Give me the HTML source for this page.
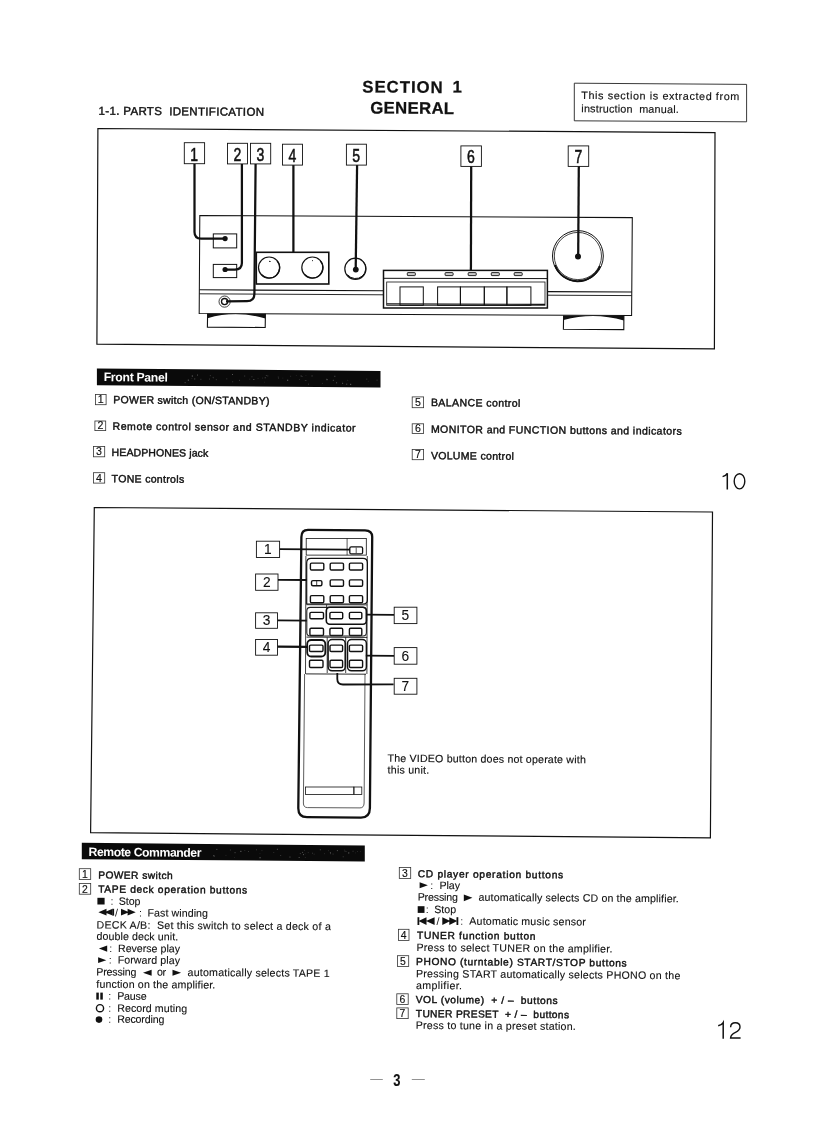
<!DOCTYPE html>
<html><head><meta charset="utf-8"><style>
html,body{margin:0;padding:0;background:#fff;}
body{width:814px;height:1122px;overflow:hidden;}
svg{display:block;will-change:transform;font-family:"Liberation Sans",sans-serif;}
</style></head><body>
<svg width="814" height="1122" viewBox="0 0 814 1122">
<text x="98.6" y="114.7" font-size="11.5" font-weight="400" fill="#111" textLength="165.4" lengthAdjust="spacing" stroke="#111" stroke-width="0.42" transform="rotate(0.43 98.6 114.7)" style="white-space:pre">1-1. PARTS  IDENTIFICATION</text>
<text x="362.3" y="92.4" font-size="16.8" font-weight="700" fill="#111" textLength="80.4" lengthAdjust="spacing" stroke="#111" stroke-width="0.25" transform="rotate(0.43 362.3 92.4)" style="white-space:pre">SECTION</text>
<text x="452.6" y="92.5" font-size="16.8" font-weight="700" fill="#111" stroke="#111" stroke-width="0.25" transform="rotate(0.43 452.6 92.5)" style="white-space:pre">1</text>
<text x="370.2" y="113.4" font-size="16.8" font-weight="700" fill="#111" textLength="83.9" lengthAdjust="spacing" stroke="#111" stroke-width="0.25" transform="rotate(0.43 370.2 113.4)" style="white-space:pre">GENERAL</text>
<polygon points="574.3,83.2 746.6,84.4 746.6,121.8 574.3,120.8" fill="none" stroke="#222" stroke-width="0.9"/>
<text x="581.3" y="99.0" font-size="10.8" font-weight="400" fill="#111" textLength="158.0" lengthAdjust="spacing" stroke="#111" stroke-width="0.15" transform="rotate(0.43 581.3 99.0)" style="white-space:pre">This section is extracted from</text>
<text x="581.3" y="112.3" font-size="10.8" font-weight="400" fill="#111" textLength="97.5" lengthAdjust="spacing" stroke="#111" stroke-width="0.15" transform="rotate(0.43 581.3 112.3)" style="white-space:pre">instruction  manual.</text>
<polygon points="97.9,128.5 715.0,132.6 714.4,348.9 96.9,344.2" fill="none" stroke="#111" stroke-width="1.2"/>
<path d="M194.5,164 L194.5,232 Q194.5,238.6 201,238.6 L225,238.6" fill="none" stroke="#111" stroke-width="2.25" />
<path d="M241.9,164 L241.9,263 Q241.9,269.5 235,269.5 L225,269.5" fill="none" stroke="#111" stroke-width="2.25" />
<path d="M255.6,164 L254.4,294 Q254.2,301.0 247,301.2 L226,301.4" fill="none" stroke="#111" stroke-width="2.25" />
<line x1="293.4" y1="165.0" x2="293.4" y2="252.5" stroke="#111" stroke-width="2.25"/>
<path d="M357.1,165 L355.7,268.8" fill="none" stroke="#111" stroke-width="2.25" />
<line x1="471.2" y1="166.0" x2="470.9" y2="270.5" stroke="#111" stroke-width="2.25"/>
<line x1="578.8" y1="166.0" x2="578.2" y2="256.0" stroke="#111" stroke-width="2.25"/>
<rect x="184.3" y="142.7" width="20.3" height="21.0" rx="0" fill="#fff" stroke="#111" stroke-width="0.9"/>
<text x="190.3" y="160.7" font-size="19" font-weight="400" fill="#111" stroke="#111" stroke-width="0.55" transform="translate(190.3 160.7) scale(0.74 1) translate(-190.3 -160.7)" style="white-space:pre">1</text>
<rect x="227.5" y="143.3" width="20.0" height="20.6" rx="0" fill="#fff" stroke="#111" stroke-width="0.9"/>
<text x="233.4" y="160.9" font-size="19" font-weight="400" fill="#111" stroke="#111" stroke-width="0.55" transform="translate(233.4 160.9) scale(0.74 1) translate(-233.4 -160.9)" style="white-space:pre">2</text>
<rect x="250.5" y="143.3" width="20.2" height="20.6" rx="0" fill="#fff" stroke="#111" stroke-width="0.9"/>
<text x="256.5" y="160.9" font-size="19" font-weight="400" fill="#111" stroke="#111" stroke-width="0.55" transform="translate(256.5 160.9) scale(0.74 1) translate(-256.5 -160.9)" style="white-space:pre">3</text>
<rect x="282.5" y="144.2" width="20.0" height="20.9" rx="0" fill="#fff" stroke="#111" stroke-width="0.9"/>
<text x="288.4" y="162.1" font-size="19" font-weight="400" fill="#111" stroke="#111" stroke-width="0.55" transform="translate(288.4 162.1) scale(0.74 1) translate(-288.4 -162.1)" style="white-space:pre">4</text>
<rect x="346.4" y="144.2" width="20.0" height="20.9" rx="0" fill="#fff" stroke="#111" stroke-width="0.9"/>
<text x="352.3" y="162.1" font-size="19" font-weight="400" fill="#111" stroke="#111" stroke-width="0.55" transform="translate(352.3 162.1) scale(0.74 1) translate(-352.3 -162.1)" style="white-space:pre">5</text>
<rect x="460.9" y="145.9" width="20.5" height="20.5" rx="0" fill="#fff" stroke="#111" stroke-width="0.9"/>
<text x="467.0" y="163.4" font-size="19" font-weight="400" fill="#111" stroke="#111" stroke-width="0.55" transform="translate(467.0 163.4) scale(0.74 1) translate(-467.0 -163.4)" style="white-space:pre">6</text>
<rect x="568.2" y="145.9" width="20.5" height="20.5" rx="0" fill="#fff" stroke="#111" stroke-width="0.9"/>
<text x="574.4" y="163.4" font-size="19" font-weight="400" fill="#111" stroke="#111" stroke-width="0.55" transform="translate(574.4 163.4) scale(0.74 1) translate(-574.4 -163.4)" style="white-space:pre">7</text>
<polygon points="199.8,215.5 632.3,217.6 631.6,315.5 199.2,313.5" fill="none" stroke="#111" stroke-width="1.05"/>
<line x1="199.5" y1="289.8" x2="383.5" y2="290.8" stroke="#111" stroke-width="1.1"/>
<line x1="199.5" y1="293.8" x2="383.5" y2="294.8" stroke="#111" stroke-width="0.9"/>
<line x1="547.4" y1="291.6" x2="631.8" y2="292.0" stroke="#111" stroke-width="1.1"/>
<line x1="547.4" y1="295.2" x2="631.8" y2="295.6" stroke="#111" stroke-width="0.9"/>
<rect x="213.3" y="233.9" width="23.4" height="14.0" rx="0" fill="none" stroke="#111" stroke-width="1.0"/>
<rect x="213.3" y="264.4" width="23.4" height="13.2" rx="0" fill="none" stroke="#111" stroke-width="1.0"/>
<circle cx="225.1" cy="238.6" r="2.6" fill="#111" stroke="#111" stroke-width="0"/>
<circle cx="225.1" cy="269.5" r="2.6" fill="#111" stroke="#111" stroke-width="0"/>
<circle cx="224.6" cy="301.6" r="5.6" fill="none" stroke="#111" stroke-width="0.8"/>
<circle cx="224.6" cy="301.6" r="3.1" fill="none" stroke="#111" stroke-width="1.3"/>
<rect x="256.3" y="252.3" width="72.5" height="31.7" rx="0" fill="none" stroke="#111" stroke-width="1.6"/>
<circle cx="269.1" cy="267.6" r="10.6" fill="none" stroke="#111" stroke-width="1.2"/>
<circle cx="312.4" cy="267.6" r="10.6" fill="none" stroke="#111" stroke-width="1.2"/>
<line x1="269.0" y1="261.3" x2="270.6" y2="261.5" stroke="#111" stroke-width="1.0"/>
<line x1="312.0" y1="260.6" x2="313.0" y2="260.7" stroke="#111" stroke-width="0.9"/>
<path d="M277.29,261.18 A10.3 10.3 0 0 1 261.51,274.42" fill="none" stroke="#111" stroke-width="1.2" stroke-linecap="round"/>
<path d="M320.49,261.18 A10.3 10.3 0 0 1 304.71,274.42" fill="none" stroke="#111" stroke-width="1.2" stroke-linecap="round"/>
<path d="M363.49,261.78 A10.3 10.3 0 0 1 347.71,275.02" fill="none" stroke="#111" stroke-width="1.0" stroke-linecap="round"/>
<circle cx="355.4" cy="268.8" r="10.6" fill="none" stroke="#111" stroke-width="1.2"/>
<circle cx="355.8" cy="269.6" r="2.9" fill="#111" stroke="#111" stroke-width="0"/>
<circle cx="577.9" cy="256.0" r="25.4" fill="none" stroke="#111" stroke-width="1.0"/>
<path d="M 555,265 A 24 24 0 0 0 600,266" fill="none" stroke="#111" stroke-width="2.0" />
<circle cx="577.9" cy="256.0" r="23.6" fill="none" stroke="#111" stroke-width="0.8"/>
<circle cx="578.0" cy="256.5" r="3.0" fill="#111" stroke="#111" stroke-width="0"/>
<rect x="383.5" y="270.4" width="163.9" height="37.6" rx="0" fill="#fff" stroke="#111" stroke-width="1.5"/>
<line x1="383.5" y1="278.3" x2="547.4" y2="278.6" stroke="#111" stroke-width="1.0"/>
<rect x="386.7" y="282.0" width="158.3" height="23.3" rx="0" fill="none" stroke="#111" stroke-width="0.8"/>
<rect x="400.0" y="286.9" width="23.3" height="18.4" rx="0" fill="none" stroke="#111" stroke-width="1.0"/>
<rect x="437.6" y="286.9" width="22.8" height="18.4" rx="0" fill="none" stroke="#111" stroke-width="1.0"/>
<rect x="460.4" y="286.9" width="23.9" height="18.4" rx="0" fill="none" stroke="#111" stroke-width="1.0"/>
<rect x="484.3" y="286.9" width="22.6" height="18.4" rx="0" fill="none" stroke="#111" stroke-width="1.0"/>
<rect x="506.9" y="286.9" width="24.0" height="18.4" rx="0" fill="none" stroke="#111" stroke-width="1.0"/>
<line x1="386.7" y1="303.8" x2="545.0" y2="304.4" stroke="#111" stroke-width="1.2"/>
<rect x="407.3" y="272.6" width="8.0" height="3.0" rx="0.6" fill="#ccc" stroke="#111" stroke-width="0.9"/>
<rect x="445.1" y="272.6" width="8.0" height="3.0" rx="0.6" fill="#ccc" stroke="#111" stroke-width="0.9"/>
<rect x="468.2" y="272.6" width="8.0" height="3.0" rx="0.6" fill="#ccc" stroke="#111" stroke-width="0.9"/>
<rect x="491.3" y="272.6" width="8.0" height="3.0" rx="0.6" fill="#ccc" stroke="#111" stroke-width="0.9"/>
<rect x="514.2" y="272.6" width="8.0" height="3.0" rx="0.6" fill="#ccc" stroke="#111" stroke-width="0.9"/>
<path d="M207.6,313.4 L265.4,313.8 L265.4,318.6 Q236.5,309.6 207.6,318.2 Z" fill="#111"/>
<path d="M207.6,313.4 L207.4,327.1 L265.2,327.5 L265.4,313.8" fill="none" stroke="#111" stroke-width="1.1" />
<path d="M563.6,315.4 L623.9,315.8 L623.9,320.4 Q593.7,311.6 563.6,320.0 Z" fill="#111"/>
<path d="M563.6,315.4 L563.4,329.2 L623.8,329.6 L623.9,315.8" fill="none" stroke="#111" stroke-width="1.1" />
<polygon points="96.9,368.4 380.5,371.0 380.5,387.6 96.9,385.2" fill="#0a0a0a" stroke="none" stroke-width="0"/>
<rect x="244.1" y="375.5" width="1.1" height="1.1" fill="#333"/>
<rect x="194.3" y="378.5" width="0.9" height="0.9" fill="#666"/>
<rect x="191.5" y="378.2" width="0.7" height="0.7" fill="#333"/>
<rect x="265.9" y="375.0" width="0.7" height="0.7" fill="#666"/>
<rect x="264.1" y="381.8" width="0.7" height="0.7" fill="#333"/>
<rect x="304.9" y="380.0" width="0.7" height="0.7" fill="#666"/>
<rect x="295.9" y="375.1" width="0.7" height="0.7" fill="#333"/>
<rect x="290.2" y="375.8" width="0.9" height="0.9" fill="#333"/>
<rect x="287.1" y="379.7" width="1.1" height="1.1" fill="#666"/>
<rect x="215.8" y="379.1" width="1.1" height="1.1" fill="#333"/>
<rect x="253.7" y="379.2" width="0.7" height="0.7" fill="#666"/>
<rect x="191.8" y="375.5" width="1.1" height="1.1" fill="#666"/>
<rect x="264.7" y="377.2" width="1.1" height="1.1" fill="#444"/>
<rect x="251.6" y="376.5" width="0.7" height="0.7" fill="#666"/>
<rect x="334.4" y="375.8" width="0.9" height="0.9" fill="#666"/>
<rect x="278.0" y="377.6" width="0.9" height="0.9" fill="#444"/>
<rect x="300.6" y="375.4" width="1.1" height="1.1" fill="#444"/>
<rect x="212.7" y="376.9" width="0.9" height="0.9" fill="#444"/>
<rect x="187.8" y="379.6" width="1.1" height="1.1" fill="#666"/>
<rect x="336.2" y="382.4" width="0.9" height="0.9" fill="#666"/>
<rect x="249.3" y="378.7" width="0.9" height="0.9" fill="#333"/>
<rect x="346.3" y="383.7" width="0.9" height="0.9" fill="#666"/>
<rect x="311.5" y="375.4" width="1.1" height="1.1" fill="#444"/>
<rect x="308.1" y="383.7" width="0.9" height="0.9" fill="#444"/>
<rect x="321.9" y="382.9" width="0.9" height="0.9" fill="#333"/>
<rect x="366.2" y="378.6" width="1.1" height="1.1" fill="#333"/>
<rect x="277.8" y="376.5" width="0.9" height="0.9" fill="#333"/>
<rect x="326.2" y="378.6" width="0.9" height="0.9" fill="#333"/>
<rect x="212.9" y="377.4" width="0.9" height="0.9" fill="#333"/>
<rect x="342.2" y="382.9" width="0.9" height="0.9" fill="#666"/>
<rect x="262.2" y="377.6" width="0.9" height="0.9" fill="#333"/>
<rect x="209.9" y="375.4" width="0.7" height="0.7" fill="#666"/>
<rect x="226.2" y="378.3" width="1.1" height="1.1" fill="#333"/>
<rect x="232.0" y="374.1" width="0.9" height="0.9" fill="#666"/>
<rect x="253.1" y="379.3" width="0.7" height="0.7" fill="#666"/>
<rect x="350.1" y="383.8" width="1.1" height="1.1" fill="#666"/>
<rect x="326.5" y="379.1" width="1.1" height="1.1" fill="#666"/>
<rect x="257.7" y="377.9" width="0.7" height="0.7" fill="#444"/>
<rect x="305.6" y="375.3" width="0.7" height="0.7" fill="#333"/>
<rect x="267.2" y="375.4" width="1.1" height="1.1" fill="#333"/>
<rect x="200.3" y="378.8" width="1.1" height="1.1" fill="#333"/>
<rect x="367.9" y="380.9" width="0.7" height="0.7" fill="#333"/>
<rect x="301.6" y="376.1" width="0.9" height="0.9" fill="#444"/>
<rect x="299.3" y="379.0" width="0.7" height="0.7" fill="#444"/>
<rect x="376.6" y="379.7" width="0.9" height="0.9" fill="#444"/>
<rect x="197.0" y="374.6" width="0.9" height="0.9" fill="#666"/>
<rect x="232.4" y="381.5" width="0.7" height="0.7" fill="#666"/>
<rect x="184.6" y="382.1" width="1.1" height="1.1" fill="#444"/>
<rect x="209.0" y="378.7" width="0.7" height="0.7" fill="#666"/>
<rect x="239.0" y="379.9" width="0.7" height="0.7" fill="#666"/>
<rect x="347.4" y="379.9" width="0.7" height="0.7" fill="#444"/>
<rect x="332.8" y="379.8" width="1.1" height="1.1" fill="#444"/>
<rect x="306.0" y="380.3" width="0.7" height="0.7" fill="#333"/>
<rect x="342.0" y="381.8" width="0.7" height="0.7" fill="#333"/>
<rect x="282.5" y="377.7" width="0.7" height="0.7" fill="#333"/>
<text x="103.7" y="381.1" font-size="12.2" font-weight="700" fill="#fff" textLength="64.2" lengthAdjust="spacing" transform="rotate(0.43 103.7 381.1)" style="white-space:pre">Front Panel</text>
<rect x="95.5" y="394.4" width="10.6" height="10.3" rx="0" fill="none" stroke="#333" stroke-width="0.8"/>
<text x="97.8" y="403.2" font-size="10.6" font-weight="400" fill="#111" stroke="#111" stroke-width="0.15" style="white-space:pre">1</text>
<text x="113.2" y="403.3" font-size="10.5" font-weight="400" fill="#111" textLength="156.3" lengthAdjust="spacing" stroke="#111" stroke-width="0.42" transform="rotate(0.43 113.2 403.3)" style="white-space:pre">POWER switch (ON/STANDBY)</text>
<rect x="94.9" y="421.0" width="10.8" height="9.6" rx="0" fill="none" stroke="#333" stroke-width="0.8"/>
<text x="97.4" y="429.1" font-size="10.6" font-weight="400" fill="#111" stroke="#111" stroke-width="0.15" style="white-space:pre">2</text>
<text x="112.6" y="429.8" font-size="10.5" font-weight="400" fill="#111" textLength="243.0" lengthAdjust="spacing" stroke="#111" stroke-width="0.42" transform="rotate(0.43 112.6 429.8)" style="white-space:pre">Remote control sensor and STANDBY indicator</text>
<rect x="93.5" y="446.4" width="11.2" height="10.4" rx="0" fill="none" stroke="#333" stroke-width="0.8"/>
<text x="96.1" y="455.3" font-size="10.6" font-weight="400" fill="#111" stroke="#111" stroke-width="0.15" style="white-space:pre">3</text>
<text x="111.6" y="456.0" font-size="10.5" font-weight="400" fill="#111" textLength="96.6" lengthAdjust="spacing" stroke="#111" stroke-width="0.42" transform="rotate(0.43 111.6 456.0)" style="white-space:pre">HEADPHONES jack</text>
<rect x="93.5" y="472.7" width="11.2" height="10.4" rx="0" fill="none" stroke="#333" stroke-width="0.8"/>
<text x="96.1" y="481.6" font-size="10.6" font-weight="400" fill="#111" stroke="#111" stroke-width="0.15" style="white-space:pre">4</text>
<text x="111.6" y="482.3" font-size="10.5" font-weight="400" fill="#111" textLength="72.6" lengthAdjust="spacing" stroke="#111" stroke-width="0.42" transform="rotate(0.43 111.6 482.3)" style="white-space:pre">TONE controls</text>
<rect x="412.2" y="396.9" width="11.4" height="10.8" rx="0" fill="none" stroke="#333" stroke-width="0.8"/>
<text x="414.9" y="406.2" font-size="10.6" font-weight="400" fill="#111" stroke="#111" stroke-width="0.15" style="white-space:pre">5</text>
<text x="430.9" y="406.1" font-size="10.5" font-weight="400" fill="#111" textLength="89.4" lengthAdjust="spacing" stroke="#111" stroke-width="0.42" transform="rotate(0.43 430.9 406.1)" style="white-space:pre">BALANCE control</text>
<rect x="412.2" y="423.8" width="11.4" height="9.8" rx="0" fill="none" stroke="#333" stroke-width="0.8"/>
<text x="414.9" y="432.1" font-size="10.6" font-weight="400" fill="#111" stroke="#111" stroke-width="0.15" style="white-space:pre">6</text>
<text x="430.9" y="432.8" font-size="10.5" font-weight="400" fill="#111" textLength="250.8" lengthAdjust="spacing" stroke="#111" stroke-width="0.42" transform="rotate(0.43 430.9 432.8)" style="white-space:pre">MONITOR and FUNCTION buttons and indicators</text>
<rect x="412.2" y="449.5" width="11.4" height="10.2" rx="0" fill="none" stroke="#333" stroke-width="0.8"/>
<text x="414.9" y="458.2" font-size="10.6" font-weight="400" fill="#111" stroke="#111" stroke-width="0.15" style="white-space:pre">7</text>
<text x="430.9" y="459.2" font-size="10.5" font-weight="400" fill="#111" textLength="83.0" lengthAdjust="spacing" stroke="#111" stroke-width="0.42" transform="rotate(0.43 430.9 459.2)" style="white-space:pre">VOLUME control</text>
<path d="M722.6,476.6 Q726.2,475.6 727.3,473.2 L727.3,489.6" fill="none" stroke="#111" stroke-width="1.5" />
<ellipse cx="739.5" cy="481.3" rx="5.3" ry="7.6" fill="none" stroke="#111" stroke-width="1.4"/>
<polygon points="94.3,507.5 712.5,512.0 710.4,837.9 90.6,832.7" fill="none" stroke="#111" stroke-width="1.2"/>
<path d="M301.4,537 Q301.4,529.8 308,529.8 L365,530.3 Q372.3,530.5 372.2,537 L369.9,808 Q369.8,817.6 361,817.6 L307,817.2 Q298.2,817 298.3,808 Z" fill="none" stroke="#111" stroke-width="2.3" />
<path d="M304.6,674 L303.4,803 Q303.4,807.6 307.5,807.6 L360,807.9 Q364,807.9 364.1,803 L365.0,674" fill="none" stroke="#333" stroke-width="0.8" />
<line x1="306.0" y1="673.9" x2="366.0" y2="674.2" stroke="#111" stroke-width="0.9"/>
<rect x="305.5" y="787.0" width="48.4" height="7.5" rx="0" fill="none" stroke="#111" stroke-width="0.8"/>
<rect x="353.9" y="787.0" width="7.9" height="7.5" rx="0" fill="none" stroke="#111" stroke-width="0.8"/>
<rect x="306.2" y="538.4" width="60.1" height="16.7" rx="0" fill="none" stroke="#111" stroke-width="0.8"/>
<line x1="347.1" y1="538.4" x2="347.1" y2="555.1" stroke="#111" stroke-width="0.7"/>
<rect x="349.8" y="546.8" width="12.8" height="7.1" rx="1.5" fill="none" stroke="#111" stroke-width="1.3"/>
<line x1="356.2" y1="547.5" x2="356.2" y2="553.2" stroke="#111" stroke-width="0.7"/>
<line x1="305.9" y1="556.0" x2="305.5" y2="674.0" stroke="#111" stroke-width="0.8"/>
<line x1="367.3" y1="556.0" x2="366.9" y2="674.0" stroke="#111" stroke-width="0.8"/>
<path d="M306.7,604 L306.7,563 Q306.7,558.3 311,558.3 L363,558.3 Q367.4,558.3 367.4,563 L367.4,600 Q367.4,604 363,604 Z" fill="none" stroke="#111" stroke-width="1.2" />
<rect x="310.4" y="563.1" width="13.4" height="6.9" rx="1.2" fill="none" stroke="#111" stroke-width="1.4"/>
<rect x="330.2" y="563.1" width="13.3" height="6.9" rx="1.2" fill="none" stroke="#111" stroke-width="1.4"/>
<rect x="349.4" y="563.1" width="13.2" height="6.9" rx="1.2" fill="none" stroke="#111" stroke-width="1.4"/>
<rect x="311.5" y="580.6" width="10.4" height="5.2" rx="1.5" fill="none" stroke="#111" stroke-width="1.4"/>
<line x1="316.7" y1="581.0" x2="316.7" y2="585.4" stroke="#111" stroke-width="0.8"/>
<rect x="330.2" y="579.9" width="13.3" height="6.4" rx="1.2" fill="none" stroke="#111" stroke-width="1.4"/>
<rect x="349.4" y="579.9" width="13.2" height="6.4" rx="1.2" fill="none" stroke="#111" stroke-width="1.4"/>
<rect x="310.4" y="595.6" width="13.4" height="7.2" rx="1.2" fill="none" stroke="#111" stroke-width="1.4"/>
<rect x="330.2" y="595.6" width="13.3" height="7.2" rx="1.2" fill="none" stroke="#111" stroke-width="1.4"/>
<rect x="349.4" y="595.6" width="13.2" height="7.2" rx="1.2" fill="none" stroke="#111" stroke-width="1.4"/>
<line x1="306.5" y1="604.7" x2="367.2" y2="604.9" stroke="#111" stroke-width="0.8"/>
<line x1="326.6" y1="604.7" x2="326.6" y2="612.0" stroke="#111" stroke-width="0.8"/>
<rect x="309.9" y="612.4" width="13.6" height="6.4" rx="1.2" fill="none" stroke="#111" stroke-width="1.4"/>
<rect x="329.9" y="612.4" width="12.8" height="6.4" rx="1.2" fill="none" stroke="#111" stroke-width="1.4"/>
<rect x="349.4" y="612.4" width="12.4" height="6.4" rx="1.2" fill="none" stroke="#111" stroke-width="1.4"/>
<rect x="309.9" y="628.3" width="13.6" height="7.2" rx="1.2" fill="none" stroke="#111" stroke-width="1.4"/>
<rect x="329.9" y="628.3" width="12.8" height="7.2" rx="1.2" fill="none" stroke="#111" stroke-width="1.4"/>
<rect x="349.4" y="628.3" width="12.4" height="7.2" rx="1.2" fill="none" stroke="#111" stroke-width="1.4"/>
<rect x="306.8" y="607.4" width="59.6" height="28.6" rx="3.5" fill="none" stroke="#222" stroke-width="1.1"/>
<rect x="326.3" y="607.2" width="40.1" height="17.1" rx="3.5" fill="none" stroke="#111" stroke-width="1.6"/>
<line x1="306.5" y1="637.1" x2="367.2" y2="637.4" stroke="#111" stroke-width="0.9"/>
<line x1="327.2" y1="637.3" x2="327.2" y2="673.0" stroke="#111" stroke-width="0.8"/>
<line x1="345.7" y1="637.3" x2="345.7" y2="673.0" stroke="#111" stroke-width="0.8"/>
<rect x="309.5" y="645.1" width="13.5" height="6.4" rx="1.2" fill="none" stroke="#111" stroke-width="1.4"/>
<rect x="330.0" y="645.1" width="12.6" height="6.4" rx="1.2" fill="none" stroke="#111" stroke-width="1.4"/>
<rect x="349.4" y="645.1" width="13.2" height="6.4" rx="1.2" fill="none" stroke="#111" stroke-width="1.4"/>
<rect x="309.5" y="660.3" width="13.5" height="7.2" rx="1.2" fill="none" stroke="#111" stroke-width="1.4"/>
<rect x="330.0" y="660.3" width="12.6" height="7.2" rx="1.2" fill="none" stroke="#111" stroke-width="1.4"/>
<rect x="349.4" y="660.3" width="13.2" height="7.2" rx="1.2" fill="none" stroke="#111" stroke-width="1.4"/>
<rect x="307.2" y="640.0" width="18.1" height="16.5" rx="4" fill="none" stroke="#111" stroke-width="1.8"/>
<rect x="328.1" y="639.5" width="17.1" height="31.3" rx="4" fill="none" stroke="#111" stroke-width="1.5"/>
<rect x="347.5" y="639.5" width="18.9" height="31.3" rx="4" fill="none" stroke="#111" stroke-width="1.5"/>
<line x1="279.6" y1="549.2" x2="350.0" y2="549.6" stroke="#111" stroke-width="1.8"/>
<line x1="278.0" y1="579.9" x2="306.7" y2="580.0" stroke="#111" stroke-width="1.8"/>
<line x1="277.5" y1="620.4" x2="306.7" y2="620.6" stroke="#111" stroke-width="1.8"/>
<line x1="277.5" y1="646.7" x2="307.2" y2="646.9" stroke="#111" stroke-width="2.3"/>
<line x1="366.5" y1="614.7" x2="394.2" y2="614.9" stroke="#111" stroke-width="1.8"/>
<line x1="365.8" y1="655.6" x2="394.2" y2="655.8" stroke="#111" stroke-width="1.8"/>
<path d="M337.3,673 L337.3,679 Q337.3,684.5 343,684.5 L393.6,684.3" fill="none" stroke="#111" stroke-width="1.8" />
<rect x="256.4" y="541.2" width="23.2" height="16.3" rx="0" fill="#fff" stroke="#111" stroke-width="0.9"/>
<text x="264.1" y="554.2" font-size="14.5" font-weight="400" fill="#111" stroke="#111" stroke-width="0.1" transform="translate(264.1 554.2) scale(0.95 1) translate(-264.1 -554.2)" style="white-space:pre">1</text>
<rect x="255.6" y="574.0" width="22.4" height="16.3" rx="0" fill="#fff" stroke="#111" stroke-width="0.9"/>
<text x="262.9" y="587.0" font-size="14.5" font-weight="400" fill="#111" stroke="#111" stroke-width="0.1" transform="translate(262.9 587.0) scale(0.95 1) translate(-262.9 -587.0)" style="white-space:pre">2</text>
<rect x="255.6" y="612.8" width="21.9" height="15.5" rx="0" fill="#fff" stroke="#111" stroke-width="0.9"/>
<text x="262.7" y="625.0" font-size="14.5" font-weight="400" fill="#111" stroke="#111" stroke-width="0.1" transform="translate(262.7 625.0) scale(0.95 1) translate(-262.7 -625.0)" style="white-space:pre">3</text>
<rect x="255.6" y="639.5" width="21.9" height="15.7" rx="0" fill="#fff" stroke="#111" stroke-width="0.9"/>
<text x="262.7" y="651.9" font-size="14.5" font-weight="400" fill="#111" stroke="#111" stroke-width="0.1" transform="translate(262.7 651.9) scale(0.95 1) translate(-262.7 -651.9)" style="white-space:pre">4</text>
<rect x="394.2" y="607.2" width="22.7" height="16.4" rx="0" fill="#fff" stroke="#111" stroke-width="0.9"/>
<text x="401.6" y="620.3" font-size="14.5" font-weight="400" fill="#111" stroke="#111" stroke-width="0.1" transform="translate(401.6 620.3) scale(0.95 1) translate(-401.6 -620.3)" style="white-space:pre">5</text>
<rect x="394.2" y="647.6" width="22.7" height="16.6" rx="0" fill="#fff" stroke="#111" stroke-width="0.9"/>
<text x="401.6" y="660.9" font-size="14.5" font-weight="400" fill="#111" stroke="#111" stroke-width="0.1" transform="translate(401.6 660.9) scale(0.95 1) translate(-401.6 -660.9)" style="white-space:pre">6</text>
<rect x="394.2" y="678.3" width="22.7" height="15.9" rx="0" fill="#fff" stroke="#111" stroke-width="0.9"/>
<text x="401.6" y="690.9" font-size="14.5" font-weight="400" fill="#111" stroke="#111" stroke-width="0.1" transform="translate(401.6 690.9) scale(0.95 1) translate(-401.6 -690.9)" style="white-space:pre">7</text>
<text x="387.6" y="761.8" font-size="10.6" font-weight="400" fill="#111" textLength="198.2" lengthAdjust="spacing" stroke="#111" stroke-width="0.15" transform="rotate(0.43 387.6 761.8)" style="white-space:pre">The VIDEO button does not operate with</text>
<text x="387.6" y="773.4" font-size="10.6" font-weight="400" fill="#111" textLength="41.5" lengthAdjust="spacing" stroke="#111" stroke-width="0.15" transform="rotate(0.43 387.6 773.4)" style="white-space:pre">this unit.</text>
<polygon points="81.8,842.8 364.8,845.4 364.8,861.4 81.8,859.3" fill="#0a0a0a" stroke="none" stroke-width="0"/>
<rect x="330.1" y="853.4" width="0.7" height="0.7" fill="#666"/>
<rect x="302.0" y="851.9" width="1.1" height="1.1" fill="#444"/>
<rect x="355.2" y="852.6" width="0.7" height="0.7" fill="#333"/>
<rect x="244.5" y="850.1" width="0.7" height="0.7" fill="#444"/>
<rect x="304.9" y="857.0" width="0.7" height="0.7" fill="#444"/>
<rect x="348.2" y="852.4" width="1.1" height="1.1" fill="#333"/>
<rect x="336.9" y="850.2" width="0.9" height="0.9" fill="#666"/>
<rect x="324.0" y="853.4" width="0.7" height="0.7" fill="#444"/>
<rect x="329.9" y="852.1" width="1.1" height="1.1" fill="#444"/>
<rect x="280.4" y="855.3" width="0.7" height="0.7" fill="#666"/>
<rect x="234.1" y="857.2" width="0.7" height="0.7" fill="#333"/>
<rect x="299.8" y="853.0" width="1.1" height="1.1" fill="#333"/>
<rect x="303.0" y="854.2" width="0.9" height="0.9" fill="#666"/>
<rect x="352.5" y="850.7" width="1.1" height="1.1" fill="#333"/>
<rect x="213.3" y="855.2" width="1.1" height="1.1" fill="#666"/>
<rect x="225.6" y="854.9" width="0.7" height="0.7" fill="#444"/>
<rect x="360.0" y="851.1" width="0.7" height="0.7" fill="#333"/>
<rect x="248.3" y="851.0" width="0.7" height="0.7" fill="#666"/>
<rect x="259.6" y="853.4" width="0.7" height="0.7" fill="#333"/>
<rect x="348.3" y="852.5" width="0.9" height="0.9" fill="#666"/>
<rect x="298.7" y="857.0" width="0.9" height="0.9" fill="#666"/>
<rect x="229.9" y="849.5" width="1.1" height="1.1" fill="#333"/>
<rect x="342.7" y="856.2" width="1.1" height="1.1" fill="#333"/>
<rect x="328.0" y="850.4" width="0.7" height="0.7" fill="#444"/>
<rect x="304.1" y="849.9" width="0.7" height="0.7" fill="#444"/>
<rect x="313.7" y="853.7" width="0.9" height="0.9" fill="#333"/>
<rect x="344.3" y="849.7" width="0.7" height="0.7" fill="#444"/>
<rect x="216.4" y="848.9" width="0.9" height="0.9" fill="#666"/>
<rect x="214.2" y="856.1" width="0.7" height="0.7" fill="#444"/>
<rect x="259.5" y="857.2" width="1.1" height="1.1" fill="#666"/>
<rect x="240.3" y="850.8" width="1.1" height="1.1" fill="#666"/>
<rect x="332.7" y="853.7" width="0.7" height="0.7" fill="#666"/>
<rect x="289.5" y="856.6" width="0.9" height="0.9" fill="#666"/>
<rect x="345.7" y="851.1" width="0.9" height="0.9" fill="#333"/>
<rect x="273.3" y="852.1" width="0.9" height="0.9" fill="#333"/>
<rect x="312.0" y="852.8" width="0.7" height="0.7" fill="#666"/>
<rect x="256.0" y="849.5" width="0.7" height="0.7" fill="#666"/>
<rect x="307.8" y="852.2" width="0.9" height="0.9" fill="#333"/>
<rect x="357.1" y="851.3" width="0.7" height="0.7" fill="#444"/>
<rect x="344.5" y="850.7" width="1.1" height="1.1" fill="#333"/>
<rect x="234.5" y="852.1" width="1.1" height="1.1" fill="#444"/>
<rect x="261.5" y="850.2" width="0.9" height="0.9" fill="#333"/>
<rect x="319.8" y="849.2" width="1.1" height="1.1" fill="#444"/>
<rect x="276.9" y="848.8" width="0.9" height="0.9" fill="#666"/>
<rect x="304.8" y="853.5" width="0.7" height="0.7" fill="#333"/>
<text x="88.5" y="856.0" font-size="12.2" font-weight="700" fill="#fff" textLength="113.0" lengthAdjust="spacing" transform="rotate(0.43 88.5 856.0)" style="white-space:pre">Remote Commander</text>
<rect x="79.3" y="868.7" width="11.4" height="10.8" rx="0" fill="none" stroke="#333" stroke-width="0.8"/>
<text x="82.1" y="877.9" font-size="10.4" font-weight="400" fill="#111" stroke="#111" stroke-width="0.15" style="white-space:pre">1</text>
<text x="98.2" y="878.5" font-size="10.2" font-weight="400" fill="#111" textLength="74.5" lengthAdjust="spacing" stroke="#111" stroke-width="0.42" transform="rotate(0.43 98.2 878.5)" style="white-space:pre">POWER switch</text>
<rect x="79.3" y="883.4" width="11.4" height="10.8" rx="0" fill="none" stroke="#333" stroke-width="0.8"/>
<text x="82.1" y="892.6" font-size="10.4" font-weight="400" fill="#111" stroke="#111" stroke-width="0.15" style="white-space:pre">2</text>
<text x="98.2" y="892.5" font-size="10.2" font-weight="400" fill="#111" textLength="149.0" lengthAdjust="spacing" stroke="#111" stroke-width="0.42" transform="rotate(0.43 98.2 892.5)" style="white-space:pre">TAPE deck operation buttons</text>
<rect x="97.4" y="897.8" width="7.2" height="6.7" fill="#111"/>
<text x="110.6" y="904.8" font-size="10.6" font-weight="400" fill="#111" transform="rotate(0.43 110.6 904.8)" style="white-space:pre">:</text>
<text x="118.7" y="904.8" font-size="10.6" font-weight="400" fill="#111" textLength="21.8" lengthAdjust="spacing" stroke="#111" stroke-width="0.12" transform="rotate(0.43 118.7 904.8)" style="white-space:pre">Stop</text>
<path d="M98.4,912.2 L106.5,908.8 L106.5,915.6 Z M104.5,912.2 L112.6,908.8 L112.6,915.6 Z" fill="#111"/>
<rect x="112.4" y="908.8" width="1.7" height="6.8" fill="#111"/>
<text x="115.1" y="916.4" font-size="10.6" font-weight="400" fill="#111" transform="rotate(0.43 115.1 916.4)" style="white-space:pre">/</text>
<path d="M121,908.8 L129,912.2 L121,915.6 Z M127.6,908.8 L135.7,912.2 L127.6,915.6 Z" fill="#111"/>
<text x="139.0" y="916.4" font-size="10.6" font-weight="400" fill="#111" transform="rotate(0.43 139.0 916.4)" style="white-space:pre">:</text>
<text x="147.5" y="916.4" font-size="10.6" font-weight="400" fill="#111" textLength="60.5" lengthAdjust="spacing" stroke="#111" stroke-width="0.12" transform="rotate(0.43 147.5 916.4)" style="white-space:pre">Fast winding</text>
<text x="96.6" y="928.4" font-size="10.6" font-weight="400" fill="#111" textLength="234.2" lengthAdjust="spacing" stroke="#111" stroke-width="0.12" transform="rotate(0.43 96.6 928.4)" style="white-space:pre">DECK A/B:  Set this switch to select a deck of a</text>
<text x="96.6" y="939.8" font-size="10.6" font-weight="400" fill="#111" textLength="81.6" lengthAdjust="spacing" stroke="#111" stroke-width="0.12" transform="rotate(0.43 96.6 939.8)" style="white-space:pre">double deck unit.</text>
<path d="M98.9,948.6 L107.2,945.4 L107.2,951.8 Z" fill="#111"/>
<text x="109.3" y="952.1" font-size="10.6" font-weight="400" fill="#111" transform="rotate(0.43 109.3 952.1)" style="white-space:pre">:</text>
<text x="118.0" y="951.9" font-size="10.6" font-weight="400" fill="#111" textLength="62.0" lengthAdjust="spacing" stroke="#111" stroke-width="0.12" transform="rotate(0.43 118.0 951.9)" style="white-space:pre">Reverse play</text>
<path d="M98.1,957.2 L106.3,960.2 L98.1,963.1 Z" fill="#111"/>
<text x="108.8" y="963.6" font-size="10.6" font-weight="400" fill="#111" transform="rotate(0.43 108.8 963.6)" style="white-space:pre">:</text>
<text x="117.7" y="963.5" font-size="10.6" font-weight="400" fill="#111" textLength="62.3" lengthAdjust="spacing" stroke="#111" stroke-width="0.12" transform="rotate(0.43 117.7 963.5)" style="white-space:pre">Forward play</text>
<text x="96.3" y="975.4" font-size="10.6" font-weight="400" fill="#111" textLength="40.2" lengthAdjust="spacing" stroke="#111" stroke-width="0.12" transform="rotate(0.43 96.3 975.4)" style="white-space:pre">Pressing</text>
<path d="M143.0,972.8 L151.6,969.7 L151.6,975.8 Z" fill="#111"/>
<text x="157.1" y="975.6" font-size="10.6" font-weight="400" fill="#111" textLength="9.0" lengthAdjust="spacing" stroke="#111" stroke-width="0.12" transform="rotate(0.43 157.1 975.6)" style="white-space:pre">or</text>
<path d="M172.5,969.7 L181.1,972.8 L172.5,975.8 Z" fill="#111"/>
<text x="187.6" y="975.9" font-size="10.6" font-weight="400" fill="#111" textLength="142.1" lengthAdjust="spacing" stroke="#111" stroke-width="0.12" transform="rotate(0.43 187.6 975.9)" style="white-space:pre">automatically selects TAPE 1</text>
<text x="96.3" y="987.7" font-size="10.6" font-weight="400" fill="#111" textLength="119.0" lengthAdjust="spacing" stroke="#111" stroke-width="0.12" transform="rotate(0.43 96.3 987.7)" style="white-space:pre">function on the amplifier.</text>
<rect x="96.3" y="992.6" width="2.5" height="7.0" fill="#111"/><rect x="100.3" y="992.6" width="2.5" height="7.0" fill="#111"/>
<text x="108.3" y="999.6" font-size="10.6" font-weight="400" fill="#111" transform="rotate(0.43 108.3 999.6)" style="white-space:pre">:</text>
<text x="117.2" y="999.6" font-size="10.6" font-weight="400" fill="#111" textLength="29.4" lengthAdjust="spacing" stroke="#111" stroke-width="0.12" transform="rotate(0.43 117.2 999.6)" style="white-space:pre">Pause</text>
<circle cx="100.0" cy="1008.2" r="3.6" fill="none" stroke="#111" stroke-width="1.4"/>
<text x="108.3" y="1011.7" font-size="10.6" font-weight="400" fill="#111" transform="rotate(0.43 108.3 1011.7)" style="white-space:pre">:</text>
<text x="117.2" y="1011.7" font-size="10.6" font-weight="400" fill="#111" textLength="69.9" lengthAdjust="spacing" stroke="#111" stroke-width="0.12" transform="rotate(0.43 117.2 1011.7)" style="white-space:pre">Record muting</text>
<circle cx="99.0" cy="1019.6" r="3.3" fill="#111" stroke="#111" stroke-width="0"/>
<text x="108.3" y="1022.7" font-size="10.6" font-weight="400" fill="#111" transform="rotate(0.43 108.3 1022.7)" style="white-space:pre">:</text>
<text x="117.2" y="1022.7" font-size="10.6" font-weight="400" fill="#111" textLength="47.2" lengthAdjust="spacing" stroke="#111" stroke-width="0.12" transform="rotate(0.43 117.2 1022.7)" style="white-space:pre">Recording</text>
<rect x="399.3" y="867.5" width="11.4" height="11.0" rx="0" fill="none" stroke="#333" stroke-width="0.8"/>
<text x="402.1" y="876.9" font-size="10.4" font-weight="400" fill="#111" stroke="#111" stroke-width="0.15" style="white-space:pre">3</text>
<text x="417.7" y="877.3" font-size="10.2" font-weight="400" fill="#111" textLength="145.5" lengthAdjust="spacing" stroke="#111" stroke-width="0.42" transform="rotate(0.43 417.7 877.3)" style="white-space:pre">CD player operation buttons</text>
<path d="M419.6,882.2 L427.9,885.25 L419.6,888.3 Z" fill="#111"/>
<text x="430.3" y="889.0" font-size="10.6" font-weight="400" fill="#111" transform="rotate(0.43 430.3 889.0)" style="white-space:pre">:</text>
<text x="439.5" y="889.0" font-size="10.6" font-weight="400" fill="#111" textLength="20.5" lengthAdjust="spacing" stroke="#111" stroke-width="0.12" transform="rotate(0.43 439.5 889.0)" style="white-space:pre">Play</text>
<text x="417.7" y="900.6" font-size="10.6" font-weight="400" fill="#111" textLength="40.2" lengthAdjust="spacing" stroke="#111" stroke-width="0.12" transform="rotate(0.43 417.7 900.6)" style="white-space:pre">Pressing</text>
<path d="M463.8,894.5 L472.4,897.85 L463.8,901.2 Z" fill="#111"/>
<text x="478.5" y="900.8" font-size="10.6" font-weight="400" fill="#111" textLength="200.3" lengthAdjust="spacing" stroke="#111" stroke-width="0.12" transform="rotate(0.43 478.5 900.8)" style="white-space:pre">automatically selects CD on the amplifier.</text>
<rect x="417.7" y="906.2" width="6.8" height="6.7" fill="#111"/>
<text x="425.8" y="912.9" font-size="10.6" font-weight="400" fill="#111" transform="rotate(0.43 425.8 912.9)" style="white-space:pre">:</text>
<text x="434.3" y="912.9" font-size="10.6" font-weight="400" fill="#111" textLength="21.8" lengthAdjust="spacing" stroke="#111" stroke-width="0.12" transform="rotate(0.43 434.3 912.9)" style="white-space:pre">Stop</text>
<rect x="417.5" y="917.2" width="1.8" height="7.8" fill="#111"/><path d="M418.5,921.1 L426.5,917.2 L426.5,925 Z M426.0,921.1 L434.6,917.2 L434.6,925 Z" fill="#111"/>
<text x="436.6" y="925.0" font-size="10.6" font-weight="400" fill="#111" transform="rotate(0.43 436.6 925.0)" style="white-space:pre">/</text>
<path d="M442.3,917.2 L450.3,921.1 L442.3,925 Z M449.3,917.2 L457.3,921.1 L449.3,925 Z" fill="#111"/><rect x="456.5" y="917.2" width="1.8" height="7.8" fill="#111"/>
<text x="460.3" y="924.8" font-size="10.6" font-weight="400" fill="#111" transform="rotate(0.43 460.3 924.8)" style="white-space:pre">:</text>
<text x="469.3" y="924.6" font-size="10.6" font-weight="400" fill="#111" textLength="116.6" lengthAdjust="spacing" stroke="#111" stroke-width="0.12" transform="rotate(0.43 469.3 924.6)" style="white-space:pre">Automatic music sensor</text>
<rect x="398.4" y="929.3" width="10.6" height="11.1" rx="0" fill="none" stroke="#333" stroke-width="0.8"/>
<text x="400.8" y="938.8" font-size="10.4" font-weight="400" fill="#111" stroke="#111" stroke-width="0.15" style="white-space:pre">4</text>
<text x="417.0" y="938.8" font-size="10.2" font-weight="400" fill="#111" textLength="118.5" lengthAdjust="spacing" stroke="#111" stroke-width="0.42" transform="rotate(0.43 417.0 938.8)" style="white-space:pre">TUNER function button</text>
<text x="416.4" y="951.0" font-size="10.6" font-weight="400" fill="#111" textLength="196.0" lengthAdjust="spacing" stroke="#111" stroke-width="0.12" transform="rotate(0.43 416.4 951.0)" style="white-space:pre">Press to select TUNER on the amplifier.</text>
<rect x="397.4" y="955.7" width="11.3" height="10.8" rx="0" fill="none" stroke="#333" stroke-width="0.8"/>
<text x="400.1" y="964.9" font-size="10.4" font-weight="400" fill="#111" stroke="#111" stroke-width="0.15" style="white-space:pre">5</text>
<text x="416.0" y="964.9" font-size="10.2" font-weight="400" fill="#111" textLength="210.6" lengthAdjust="spacing" stroke="#111" stroke-width="0.42" transform="rotate(0.43 416.0 964.9)" style="white-space:pre">PHONO (turntable) START/STOP buttons</text>
<text x="416.0" y="977.2" font-size="10.6" font-weight="400" fill="#111" textLength="264.3" lengthAdjust="spacing" stroke="#111" stroke-width="0.12" transform="rotate(0.43 416.0 977.2)" style="white-space:pre">Pressing START automatically selects PHONO on the</text>
<text x="416.0" y="988.9" font-size="10.6" font-weight="400" fill="#111" textLength="46.0" lengthAdjust="spacing" stroke="#111" stroke-width="0.12" transform="rotate(0.43 416.0 988.9)" style="white-space:pre">amplifier.</text>
<rect x="396.8" y="993.8" width="11.4" height="10.8" rx="0" fill="none" stroke="#333" stroke-width="0.8"/>
<text x="399.6" y="1003.0" font-size="10.4" font-weight="400" fill="#111" stroke="#111" stroke-width="0.15" style="white-space:pre">6</text>
<text x="415.8" y="1003.0" font-size="10.2" font-weight="400" fill="#111" textLength="141.7" lengthAdjust="spacing" stroke="#111" stroke-width="0.42" transform="rotate(0.43 415.8 1003.0)" style="white-space:pre">VOL (volume)  + / –  buttons</text>
<rect x="396.8" y="1007.9" width="11.4" height="10.7" rx="0" fill="none" stroke="#333" stroke-width="0.8"/>
<text x="399.6" y="1017.0" font-size="10.4" font-weight="400" fill="#111" stroke="#111" stroke-width="0.15" style="white-space:pre">7</text>
<text x="415.8" y="1017.1" font-size="10.2" font-weight="400" fill="#111" textLength="153.2" lengthAdjust="spacing" stroke="#111" stroke-width="0.42" transform="rotate(0.43 415.8 1017.1)" style="white-space:pre">TUNER PRESET  + / –  buttons</text>
<text x="415.8" y="1028.8" font-size="10.6" font-weight="400" fill="#111" textLength="160.0" lengthAdjust="spacing" stroke="#111" stroke-width="0.12" transform="rotate(0.43 415.8 1028.8)" style="white-space:pre">Press to tune in a preset station.</text>
<path d="M718.2,1025.8 Q721.9,1024.9 723.2,1022.6 L723.2,1038.7" fill="none" stroke="#111" stroke-width="1.5" />
<path d="M730.6,1027.2 Q730.8,1022.8 735.3,1022.8 Q740.0,1022.8 740.0,1027.0 Q740.0,1030.2 735.5,1032.4 Q730.8,1034.6 730.6,1038.0 L740.6,1038.0" fill="none" stroke="#111" stroke-width="1.4" />
<line x1="370.2" y1="1079.5" x2="382.8" y2="1079.5" stroke="#777" stroke-width="0.8"/>
<line x1="411.8" y1="1079.5" x2="424.8" y2="1079.5" stroke="#777" stroke-width="0.8"/>
<text x="393.2" y="1085.6" font-size="16.2" font-weight="700" fill="#111" stroke="#111" stroke-width="0.1" transform="translate(393.2 1085.6) scale(0.8 1) translate(-393.2 -1085.6)" style="white-space:pre">3</text>
</svg>
</body></html>
